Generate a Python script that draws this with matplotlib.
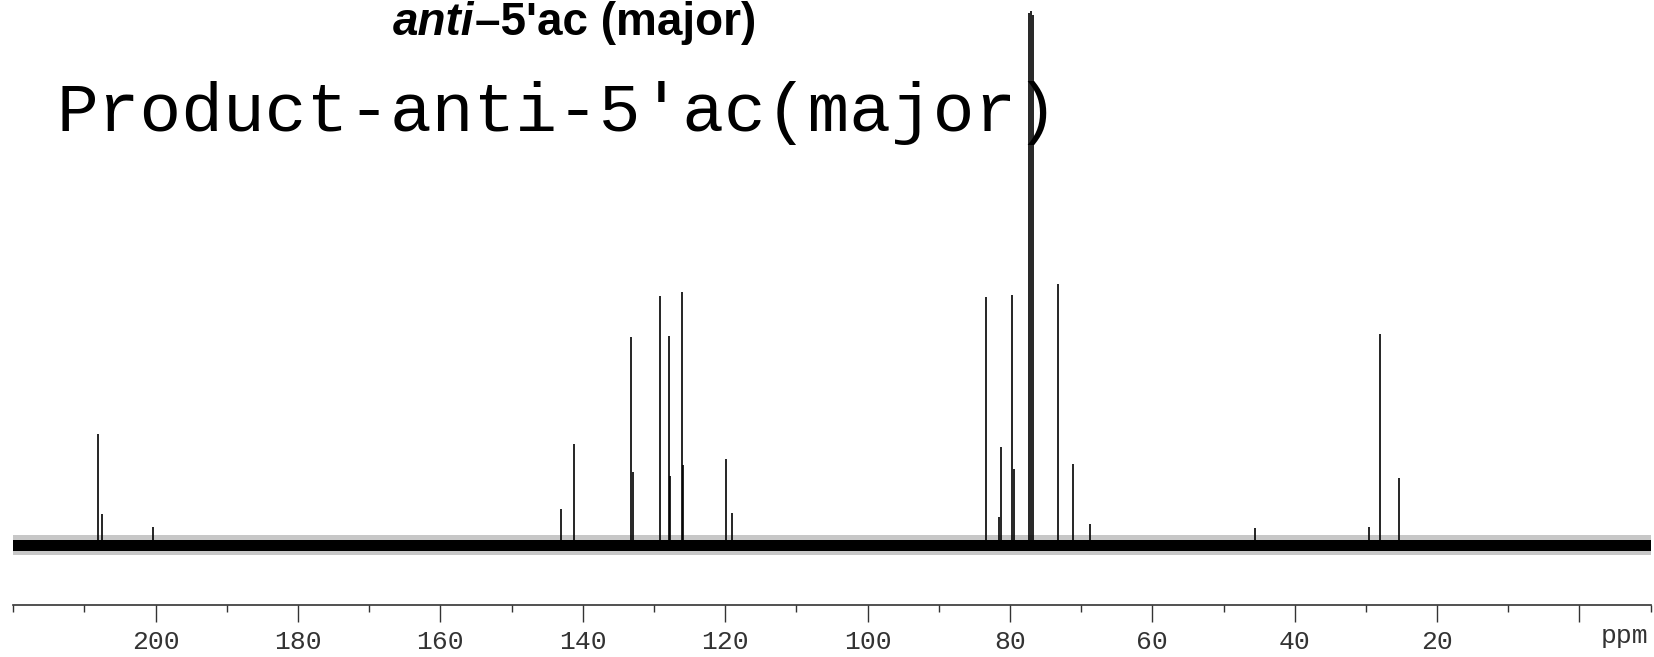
import matplotlib
matplotlib.use("Agg")
import matplotlib.pyplot as plt
from matplotlib.ticker import MultipleLocator, FixedLocator, FixedFormatter

# ---- data (13C NMR, ppm / relative height) ----
peak_ppm = [208.1, 207.6, 200.4, 143.0, 141.3, 133.2, 132.9, 129.2, 127.9, 127.7,
            126.1, 125.9, 119.9, 119.0, 83.4, 81.6, 81.2, 79.7, 79.4, 77.3,
            77.0, 76.7, 73.2, 71.1, 68.7, 45.6, 29.5, 28.0, 25.3]
peak_height = [20.9, 5.9, 3.4, 6.7, 18.9, 38.9, 13.8, 46.7, 39.1, 13.0,
               47.3, 15.0, 16.2, 6.1, 46.4, 5.3, 18.3, 46.9, 14.2, 99.6,
               100.0, 99.2, 48.9, 15.2, 3.9, 3.2, 3.4, 39.6, 12.6]
noise_core = 1.0          # half-height of the dense baseline noise
noise_fringe = 1.9        # half-height of the sparse noise spikes
tick_values = [200, 180, 160, 140, 120, 100, 80, 60, 40, 20, 0]
tick_labels = ["200", "180", "160", "140", "120", "100", "80", "60", "40", "20", ""]
x_range = (220, -10)
title_italic = "anti"
title_rest = "\u20135'ac (major)"
product_label = "Product-anti-5'ac(major)"
unit_label = "ppm"

fig = plt.figure(figsize=(16.54, 6.57), dpi=100)
ax = fig.add_axes([0.008, 0.079, 0.990, 0.921])

# baseline noise bands
ax.fill_between(list(x_range), [-noise_fringe] * 2, [noise_fringe] * 2,
                color="black", alpha=0.22, linewidth=0)
ax.fill_between(list(x_range), [-noise_core] * 2, [noise_core] * 2,
                color="black", linewidth=0)
# peaks
ax.vlines(peak_ppm, 0, peak_height, color="black", linewidth=1.2, clip_on=False)

ax.set_xlim(*x_range)
ax.set_ylim(-11.18, 101.97)

for s in ["top", "left", "right"]:
    ax.spines[s].set_visible(False)
ax.spines["bottom"].set_linewidth(1.2)
ax.spines["bottom"].set_color("#333333")
ax.set_yticks([])
ax.xaxis.set_major_locator(FixedLocator(tick_values))
ax.xaxis.set_major_formatter(FixedFormatter(tick_labels))
ax.xaxis.set_minor_locator(MultipleLocator(10))
ax.tick_params(axis="x", which="major", direction="out", length=12, width=1.0,
               color="#333333", pad=6, labelsize=19, labelcolor="#333333")
ax.tick_params(axis="x", which="minor", direction="out", length=5, width=1.0,
               color="#333333")
for lab in ax.get_xticklabels():
    lab.set_fontfamily(["Liberation Mono", "DejaVu Sans Mono"])

fig.text(0.982, 0.032, unit_label, fontsize=19, color="#333333",
         family=["Liberation Mono", "DejaVu Sans Mono"], ha="center", va="center")

fig.text(0.287, 0.965, title_italic, fontsize=33, fontweight="bold", fontstyle="italic",
         family=["Liberation Sans Narrow", "Liberation Sans"], ha="right", va="center")
fig.text(0.287, 0.965, title_rest, fontsize=33, fontweight="bold",
         family=["Liberation Sans Narrow", "Liberation Sans"], ha="left", va="center")

fig.text(0.337, 0.801, product_label, fontsize=50,
         family=["Liberation Mono", "DejaVu Sans Mono"], ha="center", va="baseline")

fig.savefig("out.png", dpi=100)
